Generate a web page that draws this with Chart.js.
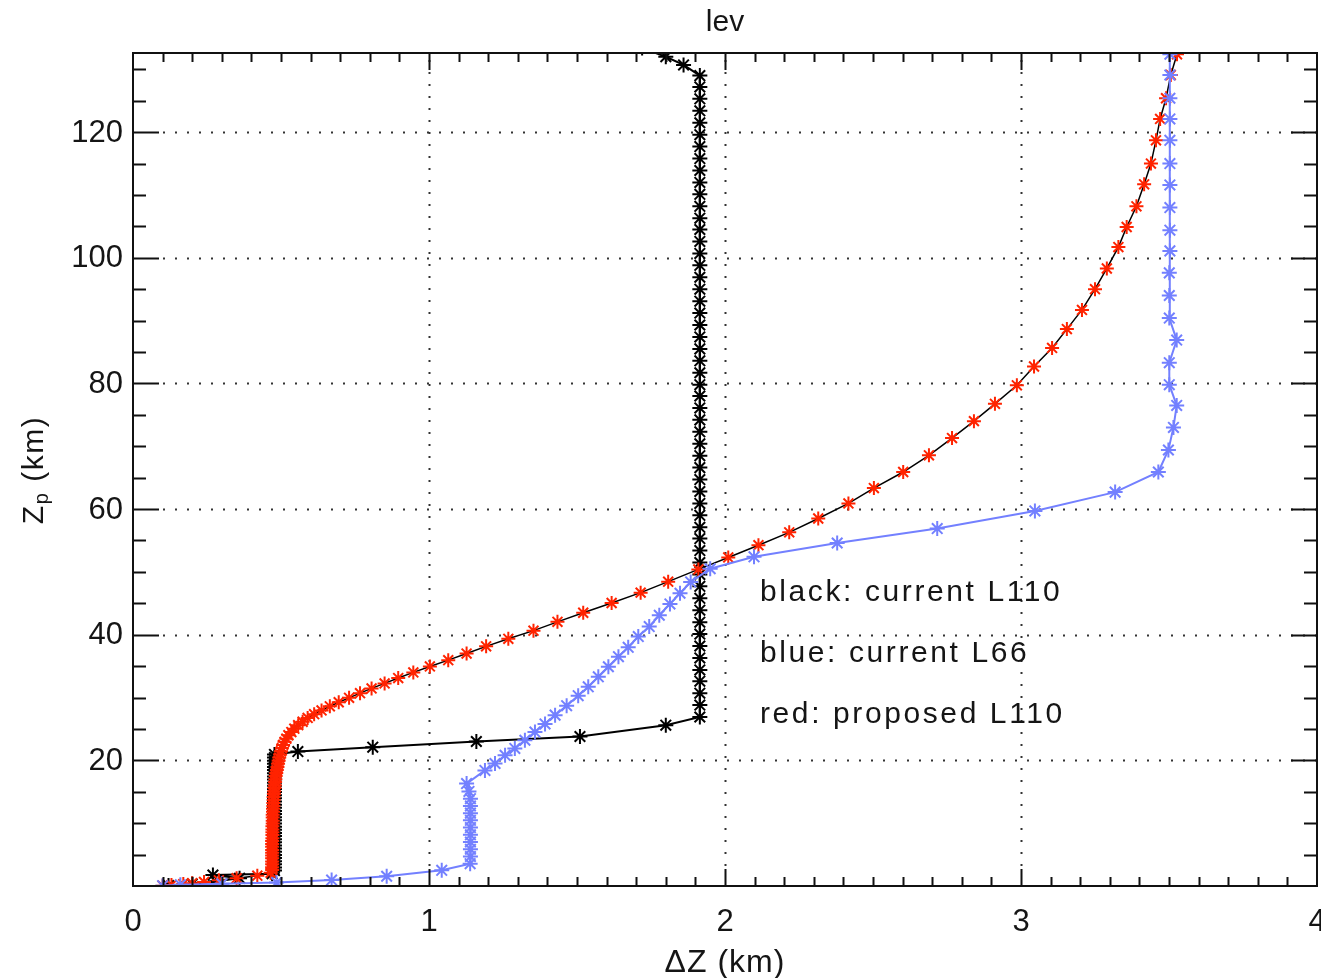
<!DOCTYPE html>
<html>
<head>
<meta charset="utf-8">
<title>lev</title>
<script src="https://cdn.jsdelivr.net/npm/chart.js@4.4.1/dist/chart.umd.min.js"></script>
<style>
  html, body { margin: 0; padding: 0; background: #fff; }
  canvas { display: block; }
</style>
</head>
<body>
<canvas id="lev" width="1321" height="978"></canvas>
<script>
// black: current L110
const blackDz = [
  0.12, 0.20, 0.28, 0.36, 0.27, 0.47, 0.478, 0.478, 0.478, 0.478,
  0.478, 0.478, 0.478, 0.478, 0.478, 0.478, 0.478, 0.478, 0.478, 0.478,
  0.478, 0.478, 0.478, 0.478, 0.478, 0.478, 0.478, 0.478, 0.478, 0.478,
  0.478, 0.478, 0.478, 0.478, 0.478, 0.478, 0.478, 0.478, 0.478, 0.478,
  0.478, 0.478, 0.478, 0.478, 0.557, 0.81, 1.16, 1.51, 1.80, 1.915,
  1.915, 1.915, 1.915, 1.915, 1.915, 1.915, 1.915, 1.915, 1.915, 1.915,
  1.915, 1.915, 1.915, 1.915, 1.915, 1.915, 1.915, 1.915, 1.915, 1.915,
  1.915, 1.915, 1.915, 1.915, 1.915, 1.915, 1.915, 1.915, 1.915, 1.915,
  1.915, 1.915, 1.915, 1.915, 1.915, 1.915, 1.915, 1.915, 1.915, 1.915,
  1.915, 1.915, 1.915, 1.915, 1.915, 1.915, 1.915, 1.915, 1.915, 1.915,
  1.915, 1.915, 1.915, 1.915, 1.86, 1.80, 1.72
];
const blackZp = [
  0.08, 0.3, 0.7, 1.25, 1.75, 1.95, 2.45, 2.95, 3.45, 3.95,
  4.45, 4.95, 5.45, 5.95, 6.45, 6.95, 7.45, 7.95, 8.45, 8.95,
  9.45, 9.95, 10.45, 10.95, 11.45, 11.95, 12.45, 12.95, 13.45, 13.95,
  14.45, 14.95, 15.45, 15.95, 16.45, 16.95, 17.45, 17.95, 18.45, 18.95,
  19.45, 19.95, 20.45, 20.95, 21.4, 22.1, 23.0, 23.8, 25.6, 26.9,
  28.8, 30.7, 32.6, 34.4, 36.3, 38.2, 40.1, 42.0, 43.9, 45.8,
  47.7, 49.6, 51.5, 53.4, 55.3, 57.1, 59.0, 60.9, 62.8, 64.7,
  66.6, 68.5, 70.4, 72.3, 74.2, 76.1, 78.0, 79.8, 81.7, 83.6,
  85.5, 87.4, 89.3, 91.2, 93.1, 95.0, 96.9, 98.8, 100.7, 102.6,
  104.5, 106.3, 108.2, 110.1, 112.0, 113.9, 115.8, 117.7, 119.6, 121.5,
  123.4, 125.3, 127.2, 129.0, 130.7, 132.0, 133.4
];

// blue: current L66
const blueDz = [
  0.10, 0.16, 0.30, 0.485, 0.671, 0.857, 1.043, 1.139, 1.14, 1.14,
  1.14, 1.14, 1.14, 1.14, 1.14, 1.14, 1.14, 1.135, 1.127, 1.189,
  1.223, 1.257, 1.29, 1.324, 1.358, 1.392, 1.426, 1.465, 1.504, 1.538,
  1.572, 1.606, 1.64, 1.673, 1.707, 1.744, 1.778, 1.814, 1.848, 1.884,
  1.95, 2.098, 2.379, 2.717, 3.047, 3.318, 3.464, 3.498, 3.515, 3.526,
  3.501, 3.501, 3.526, 3.501, 3.501, 3.501, 3.503, 3.503, 3.503, 3.503,
  3.503, 3.503, 3.503, 3.503, 3.503, 3.503
];
const blueZp = [
  0.05, 0.2, 0.35, 0.55, 0.95, 1.55, 2.5, 3.55, 4.7, 5.85,
  7.0, 8.15, 9.3, 10.45, 11.6, 12.75, 13.9, 15.05, 16.3, 18.4,
  19.5, 20.8, 21.9, 23.2, 24.5, 25.8, 27.2, 28.7, 30.3, 31.7,
  33.3, 34.9, 36.5, 38.0, 39.7, 41.3, 43.1, 44.9, 46.6, 48.4,
  50.5, 52.4, 54.6, 56.9, 59.7, 62.7, 65.9, 69.4, 73.0, 76.5,
  79.8, 83.3, 86.9, 90.4, 94.0, 97.6, 101.1, 104.4, 108.0, 111.6,
  115.0, 118.7, 122.1, 125.4, 129.1, 132.4
];

// red: proposed L110
const redDz = [
  0.10, 0.13, 0.17, 0.20, 0.24, 0.29, 0.35, 0.42, 0.465, 0.47,
  0.47, 0.47, 0.47, 0.47, 0.47, 0.47, 0.47, 0.47, 0.47, 0.47,
  0.471, 0.471, 0.471, 0.471, 0.471, 0.472, 0.472, 0.472, 0.472, 0.473,
  0.473, 0.474, 0.474, 0.475, 0.475, 0.476, 0.477, 0.478, 0.479, 0.48,
  0.481, 0.482, 0.484, 0.486, 0.488, 0.49, 0.492, 0.494, 0.497, 0.5,
  0.503, 0.507, 0.512, 0.518, 0.525, 0.535, 0.545, 0.558, 0.573, 0.59,
  0.612, 0.637, 0.665, 0.695, 0.73, 0.767, 0.806, 0.85, 0.896, 0.947,
  1.003, 1.065, 1.127, 1.193, 1.268, 1.353, 1.434, 1.521, 1.617, 1.715,
  1.808, 1.91, 2.011, 2.113, 2.217, 2.315, 2.417, 2.503, 2.602, 2.689,
  2.767, 2.841, 2.912, 2.986, 3.044, 3.105, 3.155, 3.206, 3.25, 3.29,
  3.329, 3.357, 3.39, 3.416, 3.439, 3.456, 3.47, 3.49, 3.506, 3.527
];
const redZp = [
  0.05, 0.15, 0.3, 0.45, 0.65, 0.9, 1.25, 1.65, 2.1, 2.55,
  3.0, 3.45, 3.9, 4.4, 4.85, 5.3, 5.75, 6.25, 6.7, 7.15,
  7.6, 8.1, 8.55, 9.0, 9.5, 9.95, 10.4, 10.9, 11.35, 11.8,
  12.3, 12.75, 13.2, 13.7, 14.15, 14.65, 15.1, 15.6, 16.05, 16.55,
  17.0, 17.5, 18.0, 18.45, 18.95, 19.45, 19.95, 20.45, 20.95, 21.45,
  21.95, 22.45, 22.95, 23.45, 24.0, 24.5, 25.05, 25.6, 26.15, 26.75,
  27.35, 27.95, 28.6, 29.25, 29.95, 30.7, 31.45, 32.25, 33.1, 34.0,
  34.95, 35.95, 37.0, 38.15, 39.35, 40.65, 42.05, 43.5, 45.05, 46.7,
  48.45, 50.4, 52.3, 54.25, 56.3, 58.5, 60.9, 63.35, 65.9, 68.55,
  71.3, 74.0, 76.75, 79.7, 82.7, 85.65, 88.65, 91.7, 95.0, 98.3,
  101.7, 104.9, 108.2, 111.7, 115.0, 118.7, 122.1, 125.4, 129.1, 132.4
];

const xTickLabels = ["0", "1", "2", "3", "4"];
const yTickLabels = ["20", "40", "60", "80", "100", "120"];
const legendLines = ["black: current L110", "blue: current L66", "red: proposed L110"];

const FONT = "'Liberation Sans', Arial, sans-serif";

function toPoints(xs, ys) {
  return xs.map((v, i) => ({ x: v, y: ys[i] }));
}

// IDL style box: dotted grid, inward ticks on all four sides, plain labels
const idlFrame = {
  id: 'idlFrame',
  beforeDatasetsDraw(chart) {
    const { ctx, chartArea: a, scales: { x, y } } = chart;
    ctx.save();
    ctx.strokeStyle = '#333';
    ctx.lineWidth = 2;
    ctx.setLineDash([2, 10]);
    xTickLabels.forEach(t => {
      const v = parseFloat(t);
      if (v <= x.min || v >= x.max) return;
      const px = Math.round(x.getPixelForValue(v)) + 0.5;
      ctx.beginPath();
      ctx.moveTo(px, a.bottom - 20);
      ctx.lineTo(px, a.top);
      ctx.stroke();
    });
    yTickLabels.forEach(t => {
      const py = Math.round(y.getPixelForValue(parseFloat(t))) + 0.5;
      ctx.beginPath();
      ctx.moveTo(a.left + 30, py);
      ctx.lineTo(a.right, py);
      ctx.stroke();
    });
    ctx.restore();
  },
  afterDatasetsDraw(chart) {
    const { ctx, chartArea: a, scales: { x, y } } = chart;
    ctx.save();
    ctx.strokeStyle = '#111';
    ctx.lineWidth = 2;
    ctx.strokeRect(a.left, a.top, a.right - a.left, a.bottom - a.top);

    ctx.beginPath();
    for (let i = 1; i < 40; i++) {
      const px = Math.round(x.getPixelForValue(i / 10)) + 0.5;
      const len = i % 10 === 0 ? 17 : 9;
      ctx.moveTo(px, a.bottom); ctx.lineTo(px, a.bottom - len);
      ctx.moveTo(px, a.top); ctx.lineTo(px, a.top + len);
    }
    for (let v = 5; v < y.max; v += 5) {
      const py = Math.round(y.getPixelForValue(v)) + 0.5;
      const len = v % 20 === 0 ? 26 : 13;
      ctx.moveTo(a.left, py); ctx.lineTo(a.left + len, py);
      ctx.moveTo(a.right, py); ctx.lineTo(a.right - len, py);
    }
    ctx.stroke();
    ctx.restore();
  },
  afterDraw(chart) {
    const { ctx, chartArea: a, scales: { x, y } } = chart;
    ctx.save();
    ctx.fillStyle = '#151515';
    ctx.font = '31px ' + FONT;

    ctx.textAlign = 'center';
    ctx.textBaseline = 'middle';
    xTickLabels.forEach(t => ctx.fillText(t, x.getPixelForValue(parseFloat(t)), a.bottom + 36));

    ctx.textAlign = 'right';
    yTickLabels.forEach(t => ctx.fillText(t, a.left - 10, y.getPixelForValue(parseFloat(t)) + 1));

    ctx.textAlign = 'center';
    ctx.font = '30px ' + FONT;
    ctx.fillText('lev', (a.left + a.right) / 2, 23);

    ctx.font = '32px ' + FONT;
    ctx.textBaseline = 'top';
    ctx.letterSpacing = '1px';
    ctx.fillText('\u0394Z (km)', (a.left + a.right) / 2, 947);

    // legend notes
    ctx.font = '30px ' + FONT;
    ctx.textAlign = 'left';
    ctx.textBaseline = 'middle';
    ctx.letterSpacing = '2.6px';
    legendLines.forEach((t, i) => ctx.fillText(t, 760, 593 + i * 61));

    // y title: Z subscript p (km)
    ctx.letterSpacing = '1.5px';
    ctx.translate(43, 470);
    ctx.rotate(-Math.PI / 2);
    ctx.textBaseline = 'alphabetic';
    ctx.font = '30px ' + FONT;
    const wZ = ctx.measureText('Z').width;
    const wRest = ctx.measureText(' (km)').width;
    ctx.font = '20px ' + FONT;
    const wP = ctx.measureText('p').width;
    let cx = -(wZ + wP + wRest) / 2;
    ctx.font = '30px ' + FONT;
    ctx.fillText('Z', cx, 0);
    cx += wZ;
    ctx.font = '20px ' + FONT;
    ctx.fillText('p', cx, 5);
    cx += wP;
    ctx.font = '30px ' + FONT;
    ctx.fillText(' (km)', cx, 0);
    ctx.restore();
  }
};

new Chart(document.getElementById('lev'), {
  type: 'scatter',
  data: {
    datasets: [
      {
        label: 'blue: current L66',
        data: toPoints(blueDz, blueZp),
        showLine: true,
        borderColor: 'rgb(115,128,255)',
        borderWidth: 2,
        pointStyle: 'star',
        pointRadius: 7.5,
        pointBorderColor: 'rgb(115,128,255)',
        pointBorderWidth: 2,
        pointBackgroundColor: 'rgba(0,0,0,0)',
        order: 0
      },
      {
        label: 'red: proposed L110',
        data: toPoints(redDz, redZp),
        showLine: true,
        borderColor: '#000',
        borderWidth: 1.5,
        pointStyle: 'star',
        pointRadius: 7,
        pointBorderColor: 'rgb(255,35,0)',
        pointBorderWidth: 2,
        pointBackgroundColor: 'rgba(0,0,0,0)',
        order: 1
      },
      {
        label: 'black: current L110',
        data: toPoints(blackDz, blackZp),
        showLine: true,
        borderColor: '#000',
        borderWidth: 2,
        pointStyle: 'star',
        pointRadius: 7.5,
        pointBorderColor: '#000',
        pointBorderWidth: 2,
        pointBackgroundColor: 'rgba(0,0,0,0)',
        order: 2
      }
    ]
  },
  options: {
    responsive: false,
    animation: false,
    events: [],
    layout: { autoPadding: false, padding: { left: 133, top: 53, right: 4, bottom: 92 } },
    plugins: {
      legend: { display: false },
      tooltip: { enabled: false }
    },
    scales: {
      x: { type: 'linear', min: 0, max: 4, display: false },
      y: { type: 'linear', min: 0, max: 132.6, display: false }
    }
  },
  plugins: [idlFrame]
});
</script>
</body>
</html>
